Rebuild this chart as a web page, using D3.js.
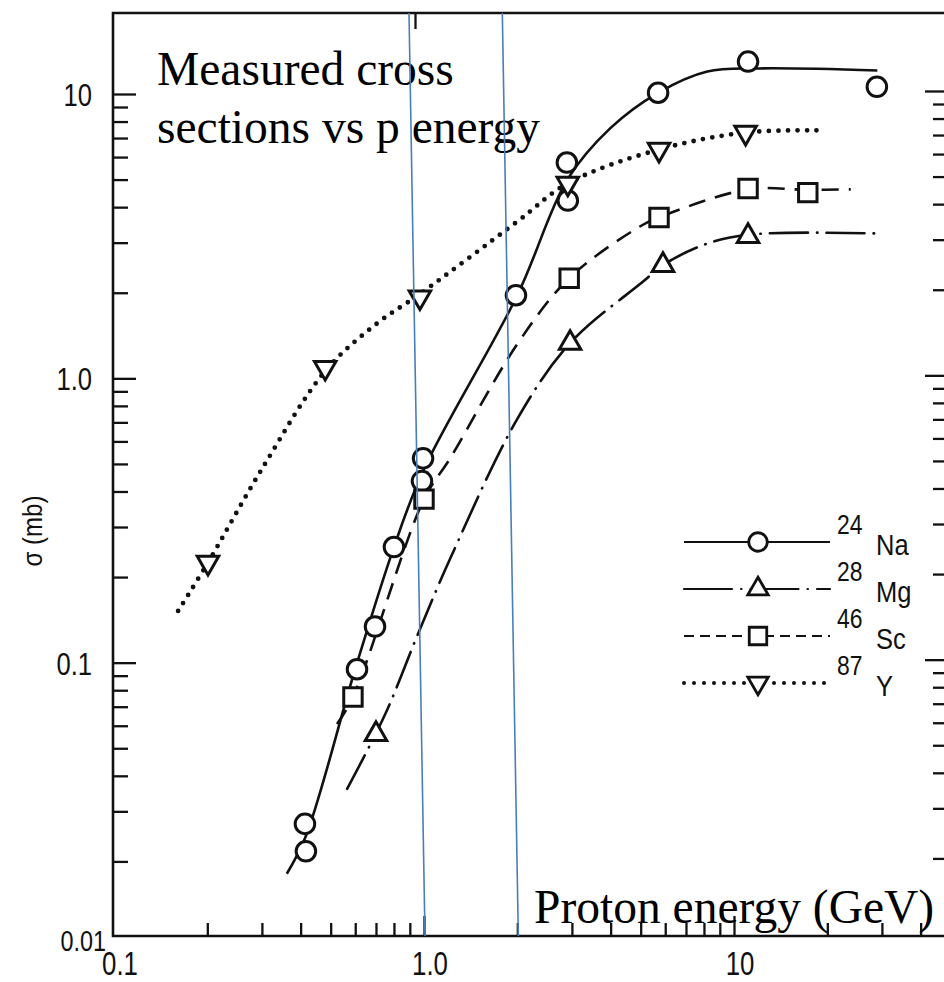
<!DOCTYPE html>
<html>
<head>
<meta charset="utf-8">
<script src="https://cdn.jsdelivr.net/npm/d3@7"></script>
<style>
    html, body { margin: 0; padding: 0; background: #fff; }
    svg { display: block; }
</style>
</head>
<body>
<div id="chart"></div>
<script>
// Measured points: proton energy (GeV) / cross section (mb)
const naE = [0.413, 0.416, 0.608, 0.695, 0.80, 0.985, 0.993, 1.98, 2.91, 2.89, 5.69, 11.1, 28.9];
const naS = [0.0271, 0.0217, 0.0948, 0.134, 0.255, 0.435, 0.523, 1.96, 4.22, 5.74, 10.1, 13.0, 10.6];
const mgE = [0.70, 2.96, 5.9, 11.1];
const mgS = [0.056, 1.33, 2.5, 3.16];
const scE = [0.59, 1.0, 2.94, 5.73, 11.1, 17.3];
const scS = [0.0757, 0.376, 2.25, 3.68, 4.65, 4.5];
const yE = [0.201, 0.48, 0.97, 2.91, 5.73, 10.9];
const yS = [0.225, 1.09, 1.93, 4.85, 6.38, 7.32];

// Hand-drawn fitted curves
const naCurveE = [0.361, 0.415, 0.6, 0.8, 1.0, 2.0, 2.9, 4.0, 5.69, 8.2, 12, 29];
const naCurveS = [0.0181, 0.0244, 0.095, 0.255, 0.48, 1.96, 5.0, 7.6, 10.1, 12.0, 12.3, 12.1];
const mgCurveE = [0.565, 0.75, 0.95, 1.21, 2.0, 2.96, 5.09, 5.9, 8.0, 11.1, 30];
const mgCurveS = [0.036, 0.066, 0.124, 0.23, 0.72, 1.33, 2.19, 2.5, 2.95, 3.2, 3.23];
const scCurveE = [0.524, 0.59, 1.0, 1.21, 2.0, 2.94, 4.97, 5.73, 11.1, 17.3, 23.8];
const scCurveS = [0.0608, 0.0757, 0.376, 0.52, 1.32, 2.25, 3.42, 3.68, 4.62, 4.6, 4.62];
const yCurveE = [0.161, 0.201, 0.3, 0.48, 0.7, 0.97, 2.0, 2.91, 5.73, 10.9, 18.9];
const yCurveS = [0.152, 0.225, 0.48, 1.06, 1.55, 1.98, 3.56, 4.85, 6.38, 7.32, 7.45];

// Axes
const xMajorTicks = [1, 10];
const xMinorTicks = [0.2, 0.3, 0.4, 0.5, 0.6, 0.7, 0.8, 0.9, 2, 3, 4, 5, 6, 7, 8, 9, 20, 30, 40];
const xLabelValues = [0.1, 1, 10];
const xTickLabels = ['0.1', '1.0', '10'];
const yMajorTicks = [0.1, 1, 10];
const yMinorTicks = [0.02, 0.03, 0.04, 0.05, 0.06, 0.07, 0.08, 0.09,
    0.2, 0.3, 0.4, 0.5, 0.6, 0.7, 0.8, 0.9, 2, 3, 4, 5, 6, 7, 8, 9];
const yLabelValues = [0.01, 0.1, 1, 10];
const yTickLabels = ['0.01', '0.1', '1.0', '10'];

// Legend + overlay
const isotopes = ['Na', 'Mg', 'Sc', 'Y'];
const massNumbers = ['24', '28', '46', '87'];
const guideEnergies = [1.0, 2.0];

const W = 944, H = 982;
const frame = { left: 113, right: 947, top: 13, bottom: 936 };
const sans = 'Liberation Sans, Arial, sans-serif';
const serif = 'Liberation Serif, Times New Roman, serif';

const svg = d3.select('#chart')
    .append('svg')
    .attr('width', W)
    .attr('height', H);

const x = d3.scaleLog().domain([0.1, 100]).range([114, 1044]);
const y = d3.scaleLog().domain([0.01, 10]).range([947, 94]);

const ink = '#111';

// Frame
svg.append('path')
    .attr('d', `M${frame.right},${frame.top}H${frame.left}V${frame.bottom}H${frame.right}`)
    .attr('fill', 'none')
    .attr('stroke', ink)
    .attr('stroke-width', 2.6);

function ticks(axis, values, size, transform) {
    svg.append('g')
        .attr('transform', transform)
        .call(axis.tickValues(values).tickSize(size).tickFormat(''))
        .call(g => g.select('.domain').remove())
        .call(g => g.selectAll('line').attr('stroke', ink).attr('stroke-width', 2.3));
}

ticks(d3.axisBottom(x), xMinorTicks, -13, `translate(0,${frame.bottom})`);
ticks(d3.axisBottom(x), xMajorTicks, -20, `translate(0,${frame.bottom})`);
ticks(d3.axisTop(x), [1], -16, `translate(-9,${frame.top})`);
ticks(d3.axisLeft(y), yMinorTicks, -15, `translate(${frame.left},0)`);
ticks(d3.axisLeft(y), yMajorTicks, -23, `translate(${frame.left},0)`);
ticks(d3.axisRight(y), yMinorTicks, -14, `translate(${frame.right},-3)`);
ticks(d3.axisRight(y), yMajorTicks, -22, `translate(${frame.right},-3)`);

// The scanned tick font is tall and narrow: squeeze Liberation Sans horizontally
function narrowLabel(parent, px, py, txt, size, anchor, squeeze) {
    return parent.append('g')
        .attr('transform', `translate(${px},${py}) scale(${squeeze},1)`)
        .append('text')
        .attr('text-anchor', anchor)
        .style('font-family', sans)
        .style('font-size', size + 'px')
        .attr('fill', ink)
        .text(txt);
}

const xLabels = svg.append('g');
xLabelValues.forEach((v, i) => {
    narrowLabel(xLabels, x(v) + 6, 975, xTickLabels[i], 34, 'middle', 0.76);
});

const yLabels = svg.append('g');
yLabelValues.forEach((v, i) => {
    if (v === 0.01) {
        narrowLabel(yLabels, 106, y(v) + 4, yTickLabels[i], 30, 'end', 0.78);
    } else {
        narrowLabel(yLabels, 92, y(v) + 12, yTickLabels[i], 32, 'end', 0.8);
    }
});

svg.append('g')
    .attr('transform', 'translate(42,531) rotate(-90) scale(0.86,1)')
    .append('text')
    .attr('text-anchor', 'middle')
    .style('font-family', sans)
    .style('font-size', '28px')
    .attr('fill', ink)
    .text('σ (mb)');

// Curves
const line = d3.line()
    .x(d => x(d[0]))
    .y(d => y(d[1]))
    .curve(d3.curveCatmullRom.alpha(0.5));

const series = [
    { e: naE, s: naS, ce: naCurveE, cs: naCurveS, dash: null, width: 2.6, cap: 'butt', symbol: d3.symbolCircle, size: 300, rotate: 0, legendDash: null },
    { e: mgE, s: mgS, ce: mgCurveE, cs: mgCurveS, dash: '38,9,0.5,9', width: 2.6, cap: 'round', symbol: d3.symbolTriangle, size: 200, rotate: 0, legendDash: '48,9,0.5,9' },
    { e: scE, s: scS, ce: scCurveE, cs: scCurveS, dash: '17,10', width: 2.6, cap: 'butt', symbol: d3.symbolSquare, size: 340, rotate: 0, legendDash: '10,6' },
    { e: yE, s: yS, ce: yCurveE, cs: yCurveS, dash: '0,9.5', width: 4.8, cap: 'round', symbol: d3.symbolTriangle, size: 200, rotate: 180, legendDash: '0,10' }
];

series.forEach(sr => {
    svg.append('path')
        .datum(sr.ce.map((e, i) => [e, sr.cs[i]]))
        .attr('d', line)
        .attr('fill', 'none')
        .attr('stroke', ink)
        .attr('stroke-width', sr.width)
        .attr('stroke-linecap', sr.cap)
        .attr('stroke-dasharray', sr.dash);
});

series.forEach(sr => {
    svg.append('g')
        .selectAll('path')
        .data(sr.e.map((e, i) => [e, sr.s[i]]))
        .enter()
        .append('path')
        .attr('d', d3.symbol().type(sr.symbol).size(sr.size))
        .attr('transform', d => `translate(${x(d[0])},${y(d[1])}) rotate(${sr.rotate})`)
        .attr('fill', '#fff')
        .attr('stroke', ink)
        .attr('stroke-width', 3);
});

// Legend
const legend = svg.append('g')
    .attr('transform', 'translate(0,542)');

series.forEach((sr, i) => {
    const row = legend.append('g')
        .attr('transform', `translate(0,${i * 47})`);
    row.append('line')
        .attr('x1', 684)
        .attr('x2', 830)
        .attr('stroke', ink)
        .attr('stroke-width', sr.width * 0.85)
        .attr('stroke-linecap', sr.cap)
        .attr('stroke-dasharray', sr.legendDash);
    row.append('path')
        .attr('d', d3.symbol().type(sr.symbol).size(sr.size * 0.9))
        .attr('transform', `translate(758,0) rotate(${sr.rotate})`)
        .attr('fill', '#fff')
        .attr('stroke', ink)
        .attr('stroke-width', 2.8);
    narrowLabel(row, 837, -8, massNumbers[i], 27, 'start', 0.85);
    narrowLabel(row, 876, 13, isotopes[i], 30, 'start', 0.85);
});

// Annotations
svg.append('text')
    .style('font-family', serif)
    .style('font-size', '47.5px')
    .attr('fill', '#000')
    .selectAll('tspan')
    .data(['Measured cross', 'sections vs p energy'])
    .enter()
    .append('tspan')
    .attr('x', 157)
    .attr('y', (d, i) => 85 + i * 58)
    .text(d => d);

svg.append('text')
    .attr('x', 534)
    .attr('y', 923)
    .style('font-family', serif)
    .style('font-size', '47.5px')
    .attr('fill', '#000')
    .text('Proton energy (GeV)');

// Blue guide lines, slightly slanted as in the overlay
svg.append('g')
    .selectAll('line')
    .data(guideEnergies)
    .enter()
    .append('line')
    .attr('x1', d => x(d) - 15)
    .attr('y1', frame.top)
    .attr('x2', d => x(d) + 1)
    .attr('y2', frame.bottom)
    .attr('stroke', '#4a7ebb')
    .attr('stroke-width', 1.6);
</script>
</body>
</html>
